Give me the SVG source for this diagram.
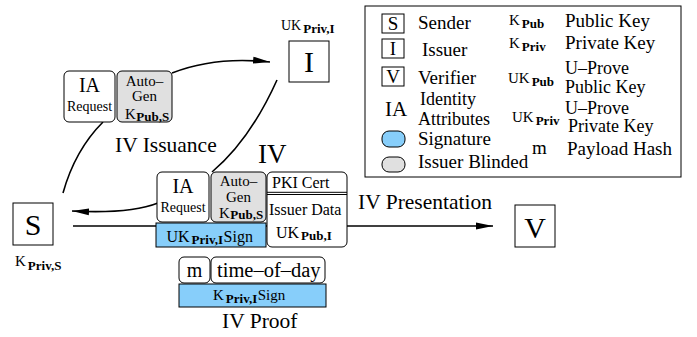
<svg xmlns="http://www.w3.org/2000/svg" width="697" height="337" viewBox="0 0 697 337">
<style>
text{font-family:"Liberation Serif","Times New Roman",serif;fill:#000}
.bx{fill:#fff;stroke:#000;stroke-width:1}
.blue{fill:#87cefa;stroke:#000;stroke-width:1}
.gray{fill:#e0e0e0;stroke:#000;stroke-width:1}
.ln{fill:none;stroke:#000;stroke-width:1.6}
.big{font-size:30px}
.lg{font-size:19px}
.lg2{font-size:18px}
.lbl{font-size:21.5px}
.sb{font-weight:bold}
.c{text-anchor:middle}
</style>
<defs>
<marker id="ah" markerUnits="userSpaceOnUse" markerWidth="18" markerHeight="8" refX="17" refY="4" orient="auto">
<path d="M0,0.5 L17,4 L0,7.5 z" fill="#000"/>
</marker>
</defs>
<rect width="697" height="337" fill="#fff"/>

<g id="connectors">
<path class="ln" d="M73,226 L493,226" marker-end="url(#ah)"/>
<path class="ln" d="M172,73 Q215,56 270,62" marker-end="url(#ah)"/>
<path class="ln" d="M63,193 Q75,150 103,122"/>
<path class="ln" d="M277,80 Q250,140 212,172"/>
<path class="ln" d="M158,203 Q130,214 72,211" marker-end="url(#ah)"/>
</g>

<g id="legend">
<rect class="bx" x="365" y="6" width="316" height="171"/>
<rect class="bx" x="382" y="14" width="22" height="19"/>
<text class="lg c" x="393" y="30">S</text>
<text class="lg" x="418" y="29">Sender</text>
<rect class="bx" x="382" y="39" width="22" height="19"/>
<text class="lg c" x="393" y="55">I</text>
<text class="lg" x="422" y="56">Issuer</text>
<rect class="bx" x="382" y="67" width="22" height="19"/>
<text class="lg c" x="393" y="83">V</text>
<text class="lg" x="418" y="84">Verifier</text>
<text x="385" y="116" style="font-size:21px">IA</text>
<text class="lg2" x="420" y="105">Identity</text>
<text class="lg2" x="418" y="125">Attributes</text>
<rect class="blue" x="382" y="131" width="23" height="16" rx="7"/>
<text class="lg" x="418" y="145">Signature</text>
<rect class="gray" x="382" y="157" width="23" height="15" rx="7"/>
<text class="lg" x="418" y="168">Issuer Blinded</text>
<text x="509" y="25" style="font-size:15px">K<tspan class="sb" dx="2" dy="3" style="font-size:13px">Pub</tspan></text>
<text x="509" y="48" style="font-size:15px">K<tspan class="sb" dx="2" dy="3" style="font-size:13px">Priv</tspan></text>
<text x="508" y="83" style="font-size:15px">UK<tspan class="sb" dx="2" dy="3" style="font-size:13px">Pub</tspan></text>
<text x="512" y="122" style="font-size:15px">UK<tspan class="sb" dx="2" dy="3" style="font-size:13px">Priv</tspan></text>
<text class="lg" x="532" y="154">m</text>
<text class="lg" x="565" y="27">Public Key</text>
<text class="lg" x="565" y="49">Private Key</text>
<text class="lg2" x="565" y="74">U–Prove</text>
<text class="lg2" x="565" y="93">Public Key</text>
<text class="lg2" x="565" y="114">U–Prove</text>
<text class="lg2" x="568" y="132">Private Key</text>
<text class="lg" x="567" y="155">Payload Hash</text>
</g>

<g id="node-issuer">
<rect class="bx" x="289" y="41" width="40" height="41"/>
<text class="big c" x="309" y="72">I</text>
<text x="281" y="29.5" style="font-size:14px">UK<tspan class="sb" dx="2" dy="3.5" style="font-size:13px">Priv,I</tspan></text>
</g>

<g id="node-sender">
<rect class="bx" x="13" y="203" width="40" height="42"/>
<text class="big c" x="33" y="235">S</text>
<text x="15" y="266" style="font-size:15px">K<tspan class="sb" dx="2" dy="4" style="font-size:13px">Priv,S</tspan></text>
</g>

<g id="node-verifier">
<rect class="bx" x="515" y="205" width="40" height="42"/>
<text class="big c" x="535" y="238">V</text>
</g>

<g id="issuance-request">
<rect class="bx" x="64" y="71" width="51" height="51" rx="5"/>
<text class="c" x="89.5" y="92" style="font-size:20px">IA</text>
<text class="c" x="89.5" y="110.5" style="font-size:14px">Request</text>
<rect class="gray" x="117" y="71" width="55" height="51" rx="5"/>
<text class="c" x="144.5" y="86" style="font-size:15px">Auto–</text>
<text class="c" x="144.5" y="101" style="font-size:15px">Gen</text>
<text x="125" y="119" style="font-size:15px">K<tspan class="sb" dx="0.5" dy="1.5" style="font-size:13px">Pub,S</tspan></text>
<text class="lbl" x="115" y="152">IV Issuance</text>
</g>

<g id="iv-token">
<text x="258" y="163" style="font-size:27px">IV</text>
<rect class="bx" x="157" y="172" width="52" height="50" rx="5"/>
<text class="c" x="183" y="193" style="font-size:20px">IA</text>
<text class="c" x="183" y="211.5" style="font-size:14px">Request</text>
<rect class="gray" x="211" y="172" width="55" height="50" rx="5"/>
<text class="c" x="238.5" y="186" style="font-size:15px">Auto–</text>
<text class="c" x="238.5" y="202" style="font-size:15px">Gen</text>
<text x="219" y="217.5" style="font-size:15px">K<tspan class="sb" dx="0.5" dy="1.5" style="font-size:13px">Pub,S</tspan></text>
<rect class="bx" x="267" y="172" width="80" height="75" rx="5"/>
<line x1="267" y1="192.3" x2="347" y2="192.3" stroke="#000" stroke-width="1"/>
<line x1="267" y1="194.5" x2="347" y2="194.5" stroke="#000" stroke-width="1"/>
<text x="272" y="188" style="font-size:16px">PKI Cert</text>
<text x="269" y="215" style="font-size:16px">Issuer Data</text>
<text x="276" y="237.5" style="font-size:16px">UK<tspan class="sb" dx="2" dy="2.5" style="font-size:13px">Pub,I</tspan></text>
<rect class="blue" x="156" y="223" width="110" height="24"/>
<text x="166.5" y="241.5" style="font-size:16px">UK<tspan class="sb" dx="2" dy="2.5" style="font-size:13px">Priv,I</tspan><tspan dx="0.5" dy="-2.5">Sign</tspan></text>
<text class="lbl" x="358" y="209">IV Presentation</text>
</g>

<g id="iv-proof">
<rect class="bx" x="179" y="257" width="31" height="26" rx="5"/>
<text class="c" x="194.5" y="276.5" style="font-size:20px">m</text>
<rect class="bx" x="211" y="257" width="114" height="26" rx="5"/>
<text x="217" y="276.5" style="font-size:20.5px">time–of–day</text>
<rect class="blue" x="179" y="284" width="147" height="23"/>
<text x="213" y="300" style="font-size:15px">K<tspan class="sb" dx="2" dy="2.5" style="font-size:13px">Priv,I</tspan><tspan dx="0.5" dy="-2.5">Sign</tspan></text>
<text class="lbl" x="222" y="328">IV Proof</text>
</g>
</svg>
